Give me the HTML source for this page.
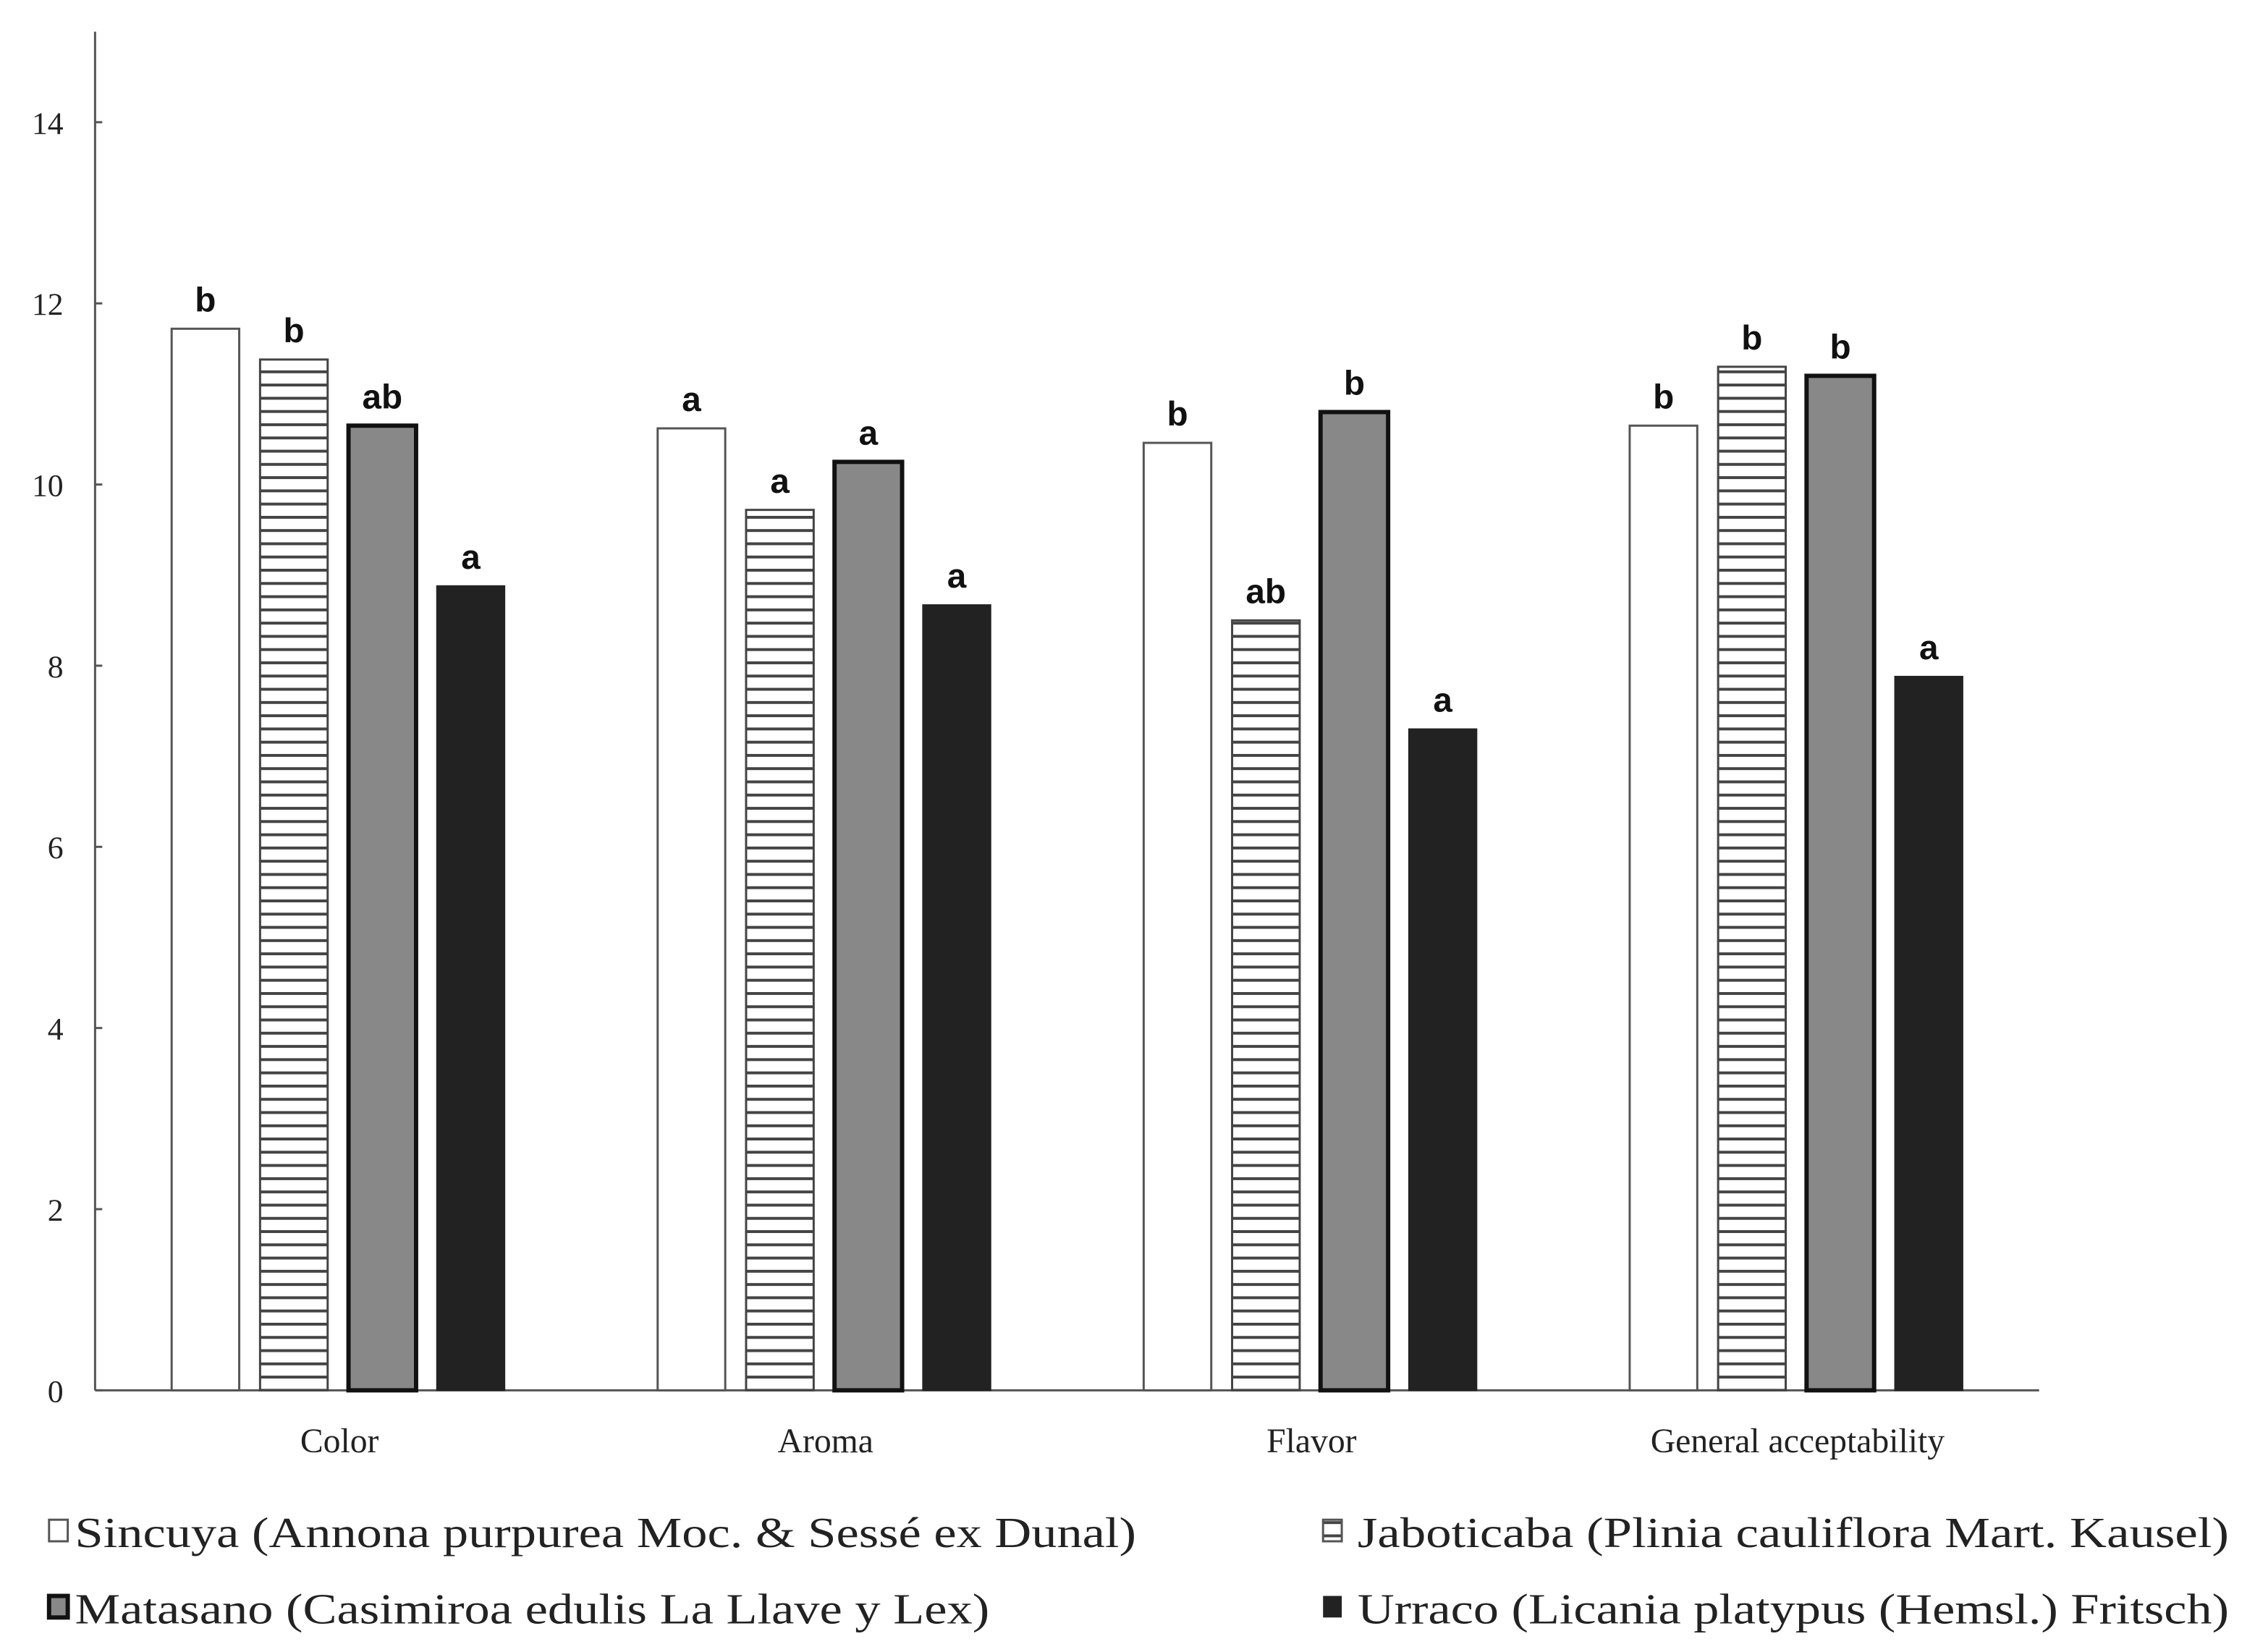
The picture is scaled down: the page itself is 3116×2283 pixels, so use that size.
<!DOCTYPE html>
<html><head><meta charset="utf-8"><style>
html,body{margin:0;padding:0;background:#fff}
svg{display:block}
text{font-family:"Liberation Serif",serif;fill:#222}
.lt{font-family:"Liberation Sans",sans-serif;font-weight:bold;fill:#111}
</style></head><body>
<svg id="chart" width="3116" height="2283" viewBox="0 0 1568 1149" xmlns="http://www.w3.org/2000/svg">
<defs>
<pattern id="stripes" patternUnits="userSpaceOnUse" width="10" height="9.2">
<rect width="10" height="9.2" fill="#fff"/>
<rect y="0" width="10" height="2" fill="#444"/>
</pattern>
</defs>
<g id="axes"></g>
<g id="bars"></g>
<g id="legend">
<rect x="34" y="1057" width="13" height="15" fill="#fff" stroke="#555" stroke-width="1.5"/>
<text x="52" y="1076" font-size="30" textLength="738" lengthAdjust="spacingAndGlyphs">Sincuya (Annona purpurea Moc. &amp; Sessé ex Dunal)</text>
<rect x="920" y="1057" width="13" height="15" fill="url(#stripes)" stroke="#555" stroke-width="1.5"/>
<text x="944" y="1076" font-size="30" textLength="606" lengthAdjust="spacingAndGlyphs">Jaboticaba (Plinia cauliflora Mart. Kausel)</text>
<rect x="34" y="1110" width="13" height="15" fill="#888" stroke="#111" stroke-width="3"/>
<text x="52" y="1129" font-size="30" textLength="636" lengthAdjust="spacingAndGlyphs">Matasano (Casimiroa edulis La Llave y Lex)</text>
<rect x="920" y="1110" width="13" height="15" fill="#222"/>
<text x="944" y="1129" font-size="30" textLength="606" lengthAdjust="spacingAndGlyphs">Urraco (Licania platypus (Hemsl.) Fritsch)</text>
</g>
</svg>
<script>
const categories = ["Color","Aroma","Flavor","General acceptability"];
const sincuya = [11.72, 10.62, 10.46, 10.65];
const jaboticaba = [11.38, 9.72, 8.5, 11.3];
const matasano = [10.65, 10.25, 10.8, 11.2];
const urraco = [8.88, 8.67, 7.3, 7.88];
const sincuyaLetters = ["b","a","b","b"];
const jaboticabaLetters = ["b","a","ab","b"];
const matasanoLetters = ["ab","a","b","b"];
const urracoLetters = ["a","a","a","a"];
const yTicks = [0,2,4,6,8,10,12,14];

const NS = "http://www.w3.org/2000/svg";
const x0 = 66, x1 = 1418, yBase = 967, yTopPx = 22, yMax = 15;
const groupW = (x1 - x0) / categories.length;
function yScale(v){ return yBase - v * (yBase - yTopPx) / yMax; }
function groupCenter(i){ return x0 + groupW * (i + 0.5); }
function mk(tag, attrs, parent){ const e = document.createElementNS(NS, tag); for (const k in attrs) e.setAttribute(k, attrs[k]); parent.appendChild(e); return e; }

const axes = document.getElementById('axes');
const bars = document.getElementById('bars');
let l = mk('line', {x1:x0, y1:yTopPx, x2:x0, y2:yBase, stroke:'#555', 'stroke-width':1.5}, axes);


l = mk('line', {x1:x0, y1:yBase, x2:x1, y2:yBase, stroke:'#555', 'stroke-width':1.5}, axes);


yTicks.forEach(t => {
  const y = yScale(t);
  const tk = mk('line', {x1:x0, y1:y, x2:x0+5, y2:y, stroke:'#555', 'stroke-width':1.5}, axes);
  
  
  const tx = mk('text', {x:44, y:y+8, 'text-anchor':'end', 'font-size':22}, axes);
  tx.textContent = t;
  
  
});
categories.forEach((c, i) => {
  const tx = mk('text', {x:groupCenter(i) + 1, y:1010, 'text-anchor':'middle', 'font-size':24}, axes);
  tx.textContent = c;
  
  
});

const series = [
  {vals:sincuya, letters:sincuyaLetters, fill:'#fff', stroke:'#555', sw:1.5, name:'sincuya'},
  {vals:jaboticaba, letters:jaboticabaLetters, fill:'url(#stripes)', stroke:'#444', sw:1.5, name:'jaboticaba'},
  {vals:matasano, letters:matasanoLetters, fill:'#888', stroke:'#111', sw:3, name:'matasano'},
  {vals:urraco, letters:urracoLetters, fill:'#222', stroke:'#222', sw:1, name:'urraco'}
];
const barW = 47, step = 61.5;
categories.forEach((c, i) => {
  series.forEach((s, j) => {
    const cx = groupCenter(i) + (j - 1.5) * step;
    const y = yScale(s.vals[i]);
    const r = mk('rect', {x:cx - barW/2, y:y, width:barW, height:yBase - y, fill:s.fill, stroke:s.stroke, 'stroke-width':s.sw}, bars);
    
    
    const t = mk('text', {x:cx, y:y - 12, 'text-anchor':'middle', 'font-size':24, class:'lt'}, bars);
    t.textContent = s.letters[i];
    
    
  });
});
</script>
</body></html>
